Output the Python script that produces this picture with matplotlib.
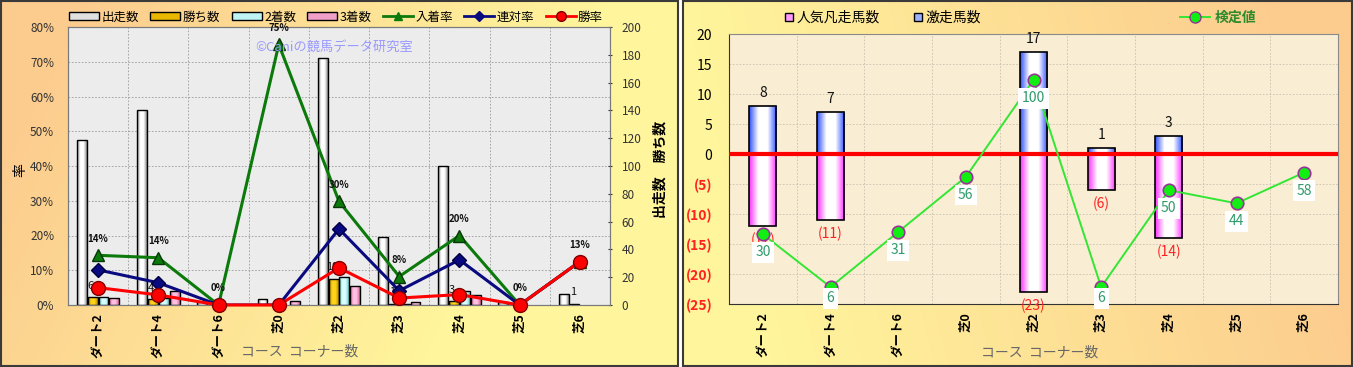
import numpy as np
import matplotlib
matplotlib.use('Agg')
import matplotlib.pyplot as plt
from matplotlib.patches import Rectangle, Patch
from matplotlib.lines import Line2D
from matplotlib.colors import LinearSegmentedColormap, to_rgb
from matplotlib.ticker import FixedLocator, FuncFormatter

plt.rcParams['font.family'] = ['Noto Sans CJK JP', 'DejaVu Sans']

# ---------------- data ----------------
categories = ['ダート2', 'ダート4', 'ダート6', '芝0', '芝2', '芝3', '芝4', '芝5', '芝6']
runs = [119, 140, 2, 4, 178, 49, 100, 2, 8]          # 出走数
wins = [6, 4, 0, 0, 19, 1, 3, 0, 1]                  # 勝ち数
seconds = [6, 5, 0, 0, 20, 1, 10, 0, 0]              # 2着数
thirds = [5, 10, 0, 3, 14, 2, 7, 0, 0]               # 3着数
place_rate = [0.143, 0.136, 0.0, 0.75, 0.298, 0.082, 0.20, 0.0, 0.125]     # 入着率
quinella_rate = [0.101, 0.064, 0.0, 0.0, 0.219, 0.041, 0.13, 0.0, 0.125]   # 連対率
win_rate = [0.050, 0.029, 0.0, 0.0, 0.107, 0.020, 0.03, 0.0, 0.125]       # 勝率
place_labels = ['14%', '14%', '0%', '75%', '30%', '8%', '20%', '0%', '13%']

hot_runs = [8, 7, 0, 0, 17, 1, 3, 0, 0]              # 激走馬数
flop_runs = [-12, -11, 0, 0, -23, -6, -14, 0, 0]     # 人気凡走馬数
test_value = [30, 6, 31, 56, 100, 6, 50, 44, 58]     # 検定値

W, H = 1353, 367
fig = plt.figure(figsize=(W / 100, H / 100), dpi=100)

# ---------------- backgrounds ----------------
bg = fig.add_axes([0, 0, 1, 1], zorder=-10)
bg.set_axis_off()
xx, yy = np.meshgrid(np.arange(W), np.arange(H))
peach = np.array(to_rgb('#fccb8e'))
yellow = np.array(to_rgb('#fff59c'))
img = np.ones((H, W, 3))
tl = np.clip((xx / 680.0) * 1.25 + (yy / H) * 0.35 - 0.12, 0, 1)
tr = np.clip(((xx - 683) / 670.0) * 1.1 - (yy / H) * 0.15, 0, 1)
left_mask = xx < 679
right_mask = xx >= 683
for c in range(3):
    ch = np.ones((H, W))
    ch[left_mask] = (peach[c] * (1 - tl) + yellow[c] * tl)[left_mask]
    ch[right_mask] = (yellow[c] * (1 - tr) + peach[c] * tr)[right_mask]
    img[..., c] = ch
bg.imshow(img, extent=[0, 1, 0, 1], aspect='auto', origin='upper')
bg.add_patch(Rectangle((0.5 / W, 1 / H), 677.5 / W, 365 / H, transform=bg.transAxes,
                       fill=False, edgecolor='#3a3a3a', lw=1.5))
bg.add_patch(Rectangle((683.5 / W, 1 / H), 668.5 / W, 365 / H, transform=bg.transAxes,
                       fill=False, edgecolor='#3a3a3a', lw=1.5))
bg.set_xlim(0, 1)
bg.set_ylim(0, 1)


def gradient_bars(ax, bars, edge_col, mid_col, z=2):
    cmap = LinearSegmentedColormap.from_list('g', [edge_col, mid_col, mid_col, edge_col],
                                             N=128)
    grad = np.linspace(0, 1, 64).reshape(1, -1)
    for b in bars:
        x0, y0 = b.get_x(), b.get_y()
        w, h = b.get_width(), b.get_height()
        if h == 0:
            b.set_visible(False)
            continue
        im = ax.imshow(grad, extent=[x0, x0 + w, min(y0, y0 + h), max(y0, y0 + h)],
                       aspect='auto', cmap=cmap, zorder=z - 0.05, interpolation='bilinear')
        im.set_clip_path(b)
        b.set_facecolor('none')
        b.set_zorder(z)


x = np.arange(len(categories))

# ================= LEFT CHART =================
axL = fig.add_axes([68 / W, (H - 305) / H, 542 / W, 278 / H])
axL.set_facecolor('#ececec')
axL2 = axL.twinx()

for g in np.arange(25, 200, 25):
    axL.axhline(g, color='#9a9a9a', lw=0.6, ls=(0, (2, 2)), zorder=0.5)
for g in np.arange(0.5, 8.5, 1):
    axL.axvline(g, color='#9a9a9a', lw=0.6, ls=(0, (2, 2)), zorder=0.5)

bw = 0.165
offs = [-0.27, -0.09, 0.09, 0.27]
b_runs = axL.bar(x + offs[0], runs, bw, edgecolor='black', lw=1)
b_wins = axL.bar(x + offs[1], wins, bw, edgecolor='black', lw=1)
b_sec = axL.bar(x + offs[2], seconds, bw, edgecolor='black', lw=1)
b_thr = axL.bar(x + offs[3], thirds, bw, edgecolor='black', lw=1)
gradient_bars(axL, b_runs, '#8c8c8c', '#ffffff')
gradient_bars(axL, b_wins, '#b08a00', '#ffd21a')
gradient_bars(axL, b_sec, '#70c8c8', '#d8ffff')
gradient_bars(axL, b_thr, '#d0609a', '#ffc0e0')

for xi, v in zip(x, wins):
    if v > 0:
        axL.annotate(str(v), (xi + offs[1] - 0.03, v), xytext=(0, 8), textcoords='offset points',
                     ha='center', va='center', fontsize=8, color='#111111', zorder=5)

axL.set_xlim(-0.5, 8.5)
axL.set_ylim(0, 200)
axL.yaxis.tick_right()
axL.yaxis.set_label_position('right')
axL.set_yticks(np.arange(0, 201, 20))
axL.tick_params(axis='y', labelsize=8.5, colors='#333333', length=3, pad=7, direction='inout')
axL.set_xticks(x)
axL.set_xticklabels(categories, rotation=90, fontsize=9, fontweight='bold')
axL.tick_params(axis='x', length=0, pad=6)

axL2.plot(x, place_rate, color='#0b7a0b', lw=2.2, marker='^', ms=8, mfc='#0b7a0b',
          mec='#063806', zorder=3)
axL2.plot(x, quinella_rate, color='#0a0a80', lw=2.2, marker='D', ms=7, mfc='#0a0a80',
          mec='#000040', zorder=4)
axL2.plot(x, win_rate, color='#ff0000', lw=2.2, marker='o', ms=10, mfc='#ff0000',
          mec='#800000', zorder=5, clip_on=False)
for xi, v, t in zip(x, place_rate, place_labels):
    axL2.annotate(t, (xi, v), xytext=(0, 12), textcoords='offset points', ha='center',
                  va='center', fontsize=7, fontweight='bold', color='#111111')
axL2.set_ylim(0, 0.8)
axL2.yaxis.tick_left()
axL2.yaxis.set_label_position('left')
axL2.set_yticks(np.arange(0, 0.81, 0.1))
axL2.set_yticklabels([f'{int(round(v * 100))}%' for v in np.arange(0, 0.81, 0.1)])
axL2.tick_params(axis='y', labelsize=8.5, colors='#333333', length=0, pad=10)
for ax in (axL, axL2):
    for s in ax.spines.values():
        s.set_color('#7a7a7a')

fig.text(20 / W, 1 - 170 / H, '率', rotation=90, ha='center', va='center', fontsize=10)
fig.text(660 / W, 1 - 169 / H, '出走数　勝ち数', rotation=90, ha='center', va='center',
         fontsize=10, fontweight='bold')
fig.text(300 / W, 1 - 352 / H, 'コース  コーナー数', ha='center', va='center', fontsize=10,
         color='#666666')
fig.text(334 / W, 1 - 47 / H, '©Caniの競馬データ研究室', ha='center', va='center',
         fontsize=9.5, color='#9a9aff')

handlesL = [Patch(facecolor='#e0e0e0', edgecolor='black'),
            Patch(facecolor='#e8b800', edgecolor='black'),
            Patch(facecolor='#bff4f4', edgecolor='black'),
            Patch(facecolor='#f0a0c8', edgecolor='black'),
            Line2D([], [], color='#0b7a0b', lw=2, marker='^', ms=6, mfc='#0b7a0b'),
            Line2D([], [], color='#0a0a80', lw=2, marker='D', ms=5, mfc='#0a0a80'),
            Line2D([], [], color='#ff0000', lw=2, marker='o', ms=7, mfc='#ff0000', mec='#800000')]
labelsL = ['出走数', '勝ち数', '2着数', '3着数', '入着率', '連対率', '勝率']
fig.legend(handlesL, labelsL, loc='center', bbox_to_anchor=(336 / W, 1 - 17 / H), ncol=7,
           frameon=False, fontsize=9, handlelength=2.4, handleheight=0.55, columnspacing=0.9,
           handletextpad=0.2, borderaxespad=0)

# ================= RIGHT CHART =================
axR = fig.add_axes([729 / W, (H - 304) / H, 609 / W, 270 / H])
axR.set_facecolor('#f9edd4')
for g in np.arange(-20, 20, 5):
    axR.axhline(g, color='#c8c0b0', lw=0.6, ls=(0, (2, 2)), zorder=0.5)
for g in np.arange(0.5, 8.5, 1):
    axR.axvline(g, color='#c8c0b0', lw=0.6, ls=(0, (2, 2)), zorder=0.5)

rbw = 0.4
b_hot = axR.bar(x, hot_runs, rbw, edgecolor='black', lw=1.2)
b_flop = axR.bar(x, flop_runs, rbw, edgecolor='black', lw=1.2)
gradient_bars(axR, b_hot, '#3050ff', '#ffffff')
gradient_bars(axR, b_flop, '#ff30ff', '#ffffff')
axR.axhline(0, color='#ff0000', lw=3, zorder=3)

for xi, v in zip(x, hot_runs):
    if v > 0:
        axR.annotate(str(v), (xi, v), xytext=(0, 9.5), textcoords='offset points',
                     ha='center', va='center', fontsize=10, color='#111111')
for xi, v in zip(x, flop_runs):
    if v < 0:
        axR.annotate(f'({-v})', (xi, v), xytext=(0, -10), textcoords='offset points',
                     ha='center', va='center', fontsize=10, color='#ff2020')

axR.set_xlim(-0.5, 8.5)
axR.set_ylim(-25, 20)
yt = np.arange(-25, 21, 5)
axR.yaxis.set_major_locator(FixedLocator(yt))
axR.yaxis.set_major_formatter(FuncFormatter(lambda v, p: f'({abs(int(v))})' if v < 0 else f'{int(v)}'))
axR.tick_params(axis='y', labelsize=10, length=0, pad=12)
for lbl, v in zip(axR.get_yticklabels(), yt):
    if v < 0:
        lbl.set_color('#ff2020')
        lbl.set_fontweight('bold')
axR.set_xticks(x)
axR.set_xticklabels(categories, rotation=90, fontsize=9, fontweight='bold')
axR.tick_params(axis='x', length=0, pad=6)
for s in axR.spines.values():
    s.set_color('#8a8a8a')
axR.spines['left'].set_color('#333333')
axR.spines['bottom'].set_color('#333333')

axR2 = axR.twinx()
axR2.plot(x, test_value, color='#33e633', lw=1.4, marker='o', ms=9, mfc='#11ee11',
          mec='#993399', mew=1.2, zorder=5, clip_on=False)
for xi, v in zip(x, test_value):
    off = -8 if v < 15 else -13
    axR2.annotate(str(v), (xi, v), xytext=(0, off), textcoords='offset points', ha='center',
                  va='center', fontsize=10, color='#2f9a6a',
                  bbox=dict(boxstyle='square,pad=0.25', fc='white', ec='none'), zorder=6)
axR2.set_ylim(-1.7, 120.9)
axR2.set_yticks([])
for s in axR2.spines.values():
    s.set_visible(False)

fig.text(1040 / W, 1 - 353 / H, 'コース  コーナー数', ha='center', va='center', fontsize=10,
         color='#666666')

handlesR = [Line2D([], [], ls='none', marker='s', ms=6, mfc='#ff99ff', mec='black'),
            Line2D([], [], ls='none', marker='s', ms=6, mfc='#9db0ff', mec='black')]
fig.legend(handlesR, ['人気凡走馬数', '激走馬数'], loc='center',
           bbox_to_anchor=(883 / W, 1 - 18 / H), ncol=2, frameon=False, fontsize=10,
           handlelength=0.6, handletextpad=0.2, columnspacing=2.5, borderaxespad=0)
legT = fig.legend([Line2D([], [], color='#33e633', lw=1.4, marker='o', ms=8, mfc='#11ee11',
                          mec='#993399')], ['検定値'], loc='center',
                  bbox_to_anchor=(1218 / W, 1 - 18 / H), frameon=False, fontsize=10,
                  handlelength=2.2, handletextpad=0.3, borderaxespad=0)
for t in legT.get_texts():
    t.set_color('#2e8b2e')
    t.set_fontweight('bold')

fig.savefig('out.png', dpi=100)
